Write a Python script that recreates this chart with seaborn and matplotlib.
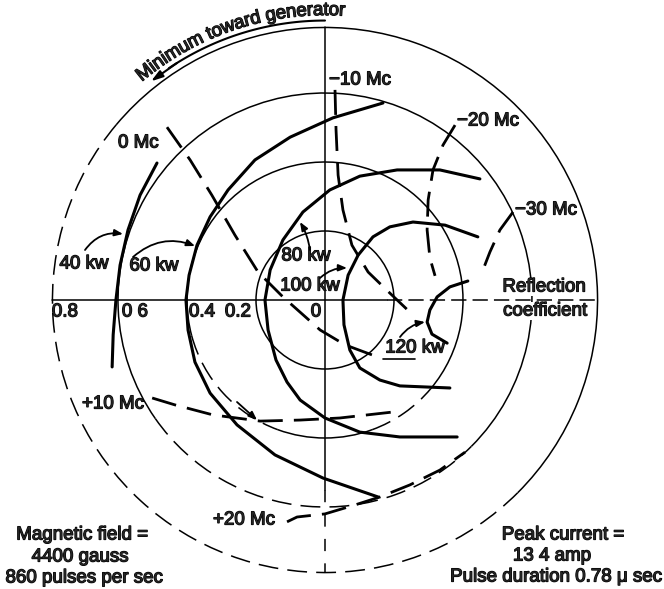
import numpy as np
import pandas as pd
import matplotlib
matplotlib.use('Agg')
import matplotlib.pyplot as plt
import matplotlib.patheffects as pe
from matplotlib.patches import Arc
from matplotlib.textpath import TextToPath
from matplotlib.font_manager import FontProperties
import seaborn as sns

# reflection coefficient circles and scale labels
circle_r = [0.2, 0.4, 0.6, 0.79]
scale_labels = ['0.8', '0 6', '0.4', '0.2', '0']

# power contours (kw) in the reflection coefficient plane
p40_x = [-0.487, -0.536, -0.571, -0.594, -0.606, -0.614, -0.617]
p40_y = [0.397, 0.304, 0.203, 0.101, 0.0, -0.101, -0.194]
p60_x = [0.168, 0.023, -0.101, -0.203, -0.281, -0.333, -0.371, -0.394, -0.403,
         -0.397, -0.377, -0.333, -0.255, -0.145, -0.006, 0.154]
p60_y = [0.571, 0.528, 0.472, 0.406, 0.319, 0.241, 0.159, 0.072, 0.0,
         -0.087, -0.180, -0.270, -0.362, -0.449, -0.516, -0.571]
p80_x = [0.449, 0.333, 0.209, 0.101, 0.014, -0.064, -0.122, -0.159, -0.174,
         -0.165, -0.142, -0.110, -0.072, 0.0, 0.101, 0.217, 0.383]
p80_y = [0.351, 0.377, 0.377, 0.359, 0.319, 0.255, 0.174, 0.087, 0.0,
         -0.087, -0.174, -0.238, -0.290, -0.342, -0.383, -0.397, -0.397]
p100_x = [0.443, 0.348, 0.255, 0.188, 0.139, 0.096, 0.067, 0.052, 0.055,
          0.072, 0.101, 0.159, 0.217, 0.362]
p100_y = [0.183, 0.217, 0.226, 0.212, 0.183, 0.130, 0.072, 0.0, -0.072,
          -0.145, -0.197, -0.232, -0.249, -0.255]
p120_x = [0.414, 0.362, 0.325, 0.304, 0.296, 0.310, 0.354]
p120_y = [0.055, 0.038, 0.009, -0.029, -0.064, -0.099, -0.125]

# frequency contours (Mc)
f0_x = [-0.458, -0.391, -0.328, -0.261, -0.194, -0.122, -0.014, 0.058, 0.136]
f0_y = [0.501, 0.406, 0.304, 0.188, 0.081, 0.009, -0.087, -0.130, -0.159]
fm10_x = [0.029, 0.032, 0.038, 0.052, 0.078, 0.125, 0.188, 0.246]
fm10_y = [0.609, 0.493, 0.362, 0.261, 0.159, 0.081, 0.020, -0.035]
fm20_x = [0.377, 0.342, 0.313, 0.299, 0.296, 0.304, 0.319]
fm20_y = [0.507, 0.449, 0.377, 0.290, 0.203, 0.122, 0.070]
fm30_x = [0.545, 0.507, 0.478, 0.452]
fm30_y = [0.255, 0.203, 0.139, 0.072]
fp10_x = [-0.501, -0.435, -0.325, -0.188, -0.072, 0.043, 0.194]
fp10_y = [-0.284, -0.304, -0.333, -0.351, -0.348, -0.342, -0.325]
fp20_x = [-0.110, -0.081, 0.0, 0.087, 0.159, 0.246, 0.333, 0.406]
fp20_y = [-0.643, -0.629, -0.620, -0.594, -0.571, -0.536, -0.493, -0.441]

power = {'40 kw': (p40_x, p40_y), '60 kw': (p60_x, p60_y), '80 kw': (p80_x, p80_y),
         '100 kw': (p100_x, p100_y), '120 kw': (p120_x, p120_y)}
freq = {'0 Mc': (f0_x, f0_y), '-10 Mc': (fm10_x, fm10_y), '-20 Mc': (fm20_x, fm20_y),
        '-30 Mc': (fm30_x, fm30_y), '+10 Mc': (fp10_x, fp10_y), '+20 Mc': (fp20_x, fp20_y)}

rows = []
for kind, dd in [('power', power), ('freq', freq)]:
    for name, (xs, ys) in dd.items():
        for i, (a, b) in enumerate(zip(xs, ys)):
            rows.append({'kind': kind, 'curve': name, 'i': i, 'x': a, 'y': b})
df = pd.DataFrame(rows)

sns.set_style('white')
plt.rcParams['font.family'] = ['Liberation Sans', 'DejaVu Sans']

S = 345.0  # pixels per unit of reflection coefficient


def P(px, py):
    # picture position -> plane coordinates
    return ((px - 325) / S, (300 - py) / S)


fig = plt.figure(figsize=(6.64, 5.89), dpi=100)
ax = fig.add_axes([0, 0, 1, 1])
ax.set_xlim(-325 / S, 339 / S)
ax.set_ylim(-289 / S, 300 / S)
ax.set_aspect('equal')
ax.axis('off')

bold = [pe.withStroke(linewidth=0.9, foreground='black')]
FS = 13.5

# circles: (radius, [(theta1, theta2, style)])
circ_parts = {
    0.2: [(0, 360, '-')],
    0.4: [(-40, 195, '-'), (195, 250, 'd'), (250, 290, '-'), (290, 320, 'd')],
    0.6: [(-45, 215, '-'), (215, 315, 'd')],
    0.79: [(-45, 140, '-'), (140, 315, 'd')],
}
for r in circle_r:
    for t1, t2, st in circ_parts[r]:
        ls = '-' if st == '-' else (0, (13, 6))
        ax.add_patch(Arc((0, 0), 2 * r, 2 * r, theta1=t1, theta2=t2,
                         lw=1.1, color='black', ls=ls))

# axes of the diagram
R = circle_r[-1]
ax.plot([-R, 0.18], [0, 0], color='black', lw=1.1)
ax.plot([0.18, R], [0, 0], color='black', lw=1.1, ls=(0, (10, 4)))
ax.plot([0, 0], [R, -0.55], color='black', lw=1.1)
ax.plot([0, 0], [-0.55, -R], color='black', lw=1.1, ls=(0, (8, 8)))

# contours
for name in power:
    sub = df[df.curve == name]
    sns.lineplot(data=sub, x='x', y='y', sort=False, estimator=None,
                 color='black', lw=2.2, ax=ax)
for name in freq:
    sub = df[df.curve == name]
    sns.lineplot(data=sub, x='x', y='y', sort=False, estimator=None,
                 color='black', lw=2.0, ls=(0, (9, 4)), ax=ax)

# scale labels below the horizontal axis
for lab, px in zip(scale_labels, [65, 135, 202, 238, 316]):
    ax.text(*P(px, 312), lab, fontsize=FS, ha='center', va='center', path_effects=bold)

ax.text(*P(544, 287), 'Reflection', fontsize=FS, ha='center', va='center',
        path_effects=bold, bbox=dict(fc='white', ec='none', pad=0.5))
ax.text(*P(545, 311), 'coefficient', fontsize=FS, ha='center', va='center',
        path_effects=bold, bbox=dict(fc='white', ec='none', pad=0.5))

# contour labels
mc_labels = [('\u221210 Mc', 329, 80), ('\u221220 Mc', 457, 121), ('\u221230 Mc', 515, 210),
             ('0 Mc', 118, 143), ('+10 Mc', 82, 404), ('+20 Mc', 213, 520)]
for lab, px, py in mc_labels:
    ax.text(*P(px, py), lab, fontsize=FS, ha='left', va='center', path_effects=bold)

kw_labels = [('40 kw', 84, 264), ('60 kw', 154, 266), ('80 kw', 306, 256),
             ('100 kw', 310, 286), ('120 kw', 415, 348)]
for lab, px, py in kw_labels:
    ax.text(*P(px, py), lab, fontsize=FS, ha='center', va='center', path_effects=bold)
ax.plot(*zip(P(383, 359), P(415, 359)), color='black', lw=1.2)

arrows = [((85, 250), (123, 234), -0.3), ((133, 257), (195, 246), -0.3),
          ((310, 250), (300, 222), 0.1), ((320, 278), (347, 268), -0.2),
          ((400, 337), (425, 322), -0.2), ((237, 402), (257, 420), 0.0)]
for (a, b, rad) in arrows:
    ax.annotate('', xy=P(*b), xytext=P(*a),
                arrowprops=dict(arrowstyle='-|>,head_length=0.5,head_width=0.2',
                                color='black', lw=1.3,
                                connectionstyle='arc3,rad=%s' % rad,
                                shrinkA=0, shrinkB=0))

# curved title with arrow along the outer circle
fp = FontProperties(family='Liberation Sans', size=FS)
t2p = TextToPath()
title = 'Minimum toward generator'


def tw(s):
    return t2p.get_text_width_height_descent(s, fp, ismath=False)[0] * 100 / 72 / S


total = tw(title)
rb = 0.826
span = np.radians(44)
fac = span * rb / total
for i, ch in enumerate(title):
    if ch == ' ':
        continue
    pos = (tw(title[:i + 1]) - tw(ch) / 2) * fac
    th = np.radians(130) - pos / rb
    ax.text(rb * np.cos(th), rb * np.sin(th), ch, fontsize=FS, ha='center',
            va='baseline', rotation=np.degrees(th) - 90, rotation_mode='anchor',
            path_effects=bold)

ra = 0.81
th = np.radians(np.linspace(90, 124, 60))
ax.plot(ra * np.cos(th), ra * np.sin(th), color='black', lw=1.5)
t0, t1 = np.radians(122), np.radians(128.5)
ax.annotate('', xy=(ra * np.cos(t1), ra * np.sin(t1)), xytext=(ra * np.cos(t0), ra * np.sin(t0)),
            arrowprops=dict(arrowstyle='-|>,head_length=0.7,head_width=0.22',
                            color='black', lw=1.5, shrinkA=0, shrinkB=0))

# operating conditions
left_txt = [('Magnetic field =', 82, 535), ('4400 gauss', 80, 557), ('860 pulses per sec', 84, 578)]
right_txt = [('Peak current =', 563, 535), ('13 4 amp', 552, 556),
             ('Pulse duration 0.78 \u03bc sec', 556, 577)]
for lab, px, py in left_txt + right_txt:
    ax.text(*P(px, py), lab, fontsize=FS, ha='center', va='center', path_effects=bold)

fig.savefig('out.png', dpi=100)
